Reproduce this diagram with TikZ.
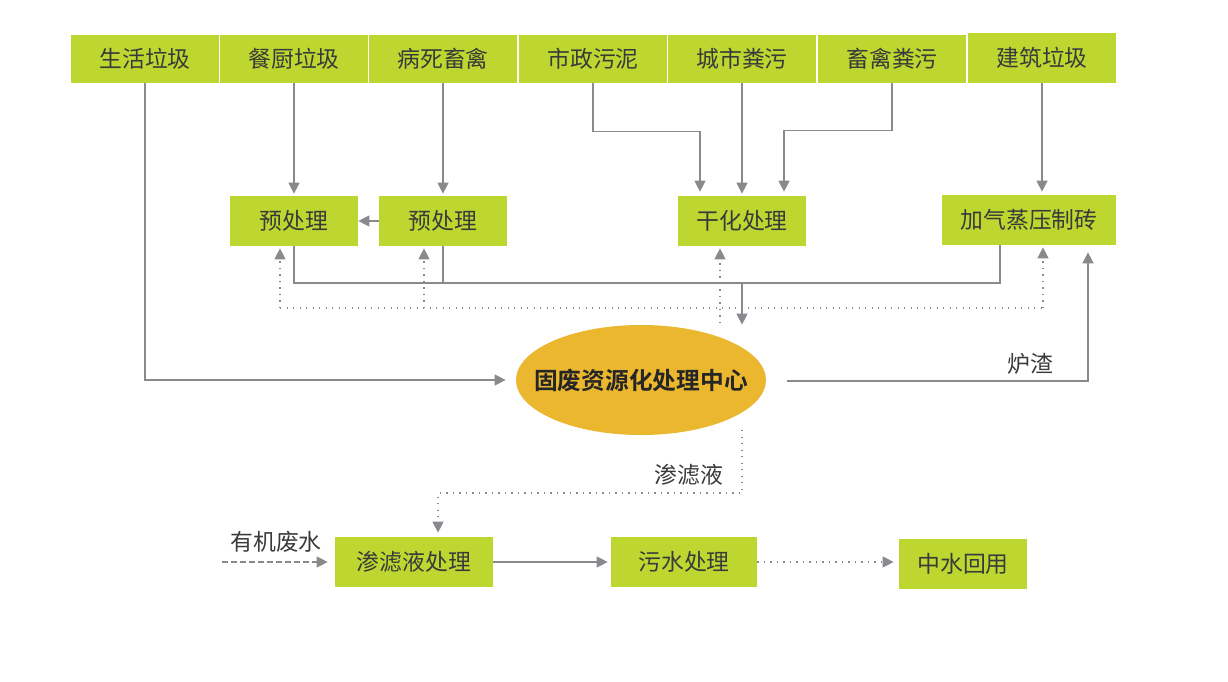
\documentclass[tikz,border=0pt]{standalone}
\usepackage{fontspec}
\setmainfont{Noto Sans CJK SC}[BoldFont={Noto Sans CJK SC Bold}]
\usetikzlibrary{positioning, arrows.meta, calc, shapes.geometric}

\definecolor{leaf}{RGB}{190,215,48}
\definecolor{amber}{RGB}{235,183,46}
\definecolor{wire}{RGB}{137,137,142}
\definecolor{ink}{RGB}{58,58,58}

\begin{document}
\begin{tikzpicture}[
  x=0.2mm, y=-0.2mm,
  font=\fontsize{13}{15}\selectfont,
  % block styles
  srcbox/.style={rectangle, fill=leaf, text=ink, minimum width=29.6mm, minimum height=9.6mm, inner sep=0pt},
  procbox/.style={rectangle, fill=leaf, text=ink, minimum width=25.6mm, minimum height=10mm, inner sep=0pt},
  hubnode/.style={ellipse, fill=amber, text=black!85, minimum width=50mm, minimum height=22mm, inner xsep=-4mm, inner ysep=0pt, font=\fontsize{13.5}{15}\selectfont\bfseries},
  tag/.style={text=ink, inner sep=1pt},
  % arrow styles
  line/.style={draw=wire, line width=0.27mm, -{Triangle[length=2.2mm, width=2.2mm]}},
  seg/.style={draw=wire, line width=0.27mm},
  dotline/.style={draw=wire, line width=0.25mm, dash pattern=on 0.25mm off 1.05mm},
  dotarrow/.style={dotline, -{Triangle[length=2.2mm, width=2.2mm]}},
  dasharrow/.style={draw=wire, line width=0.27mm, dash pattern=on 1.2mm off 0.6mm, -{Triangle[length=2.2mm, width=2.2mm]}}
]
  \useasboundingbox (0,0) rectangle (1228,682);

  % ==========================================
  % ROW 1: SOURCES
  % ==========================================
  \node[srcbox] (src1) at (145,59) {生活垃圾};
  \node[srcbox] (src2) at (294,59) {餐厨垃圾};
  \node[srcbox] (src3) at (443,59) {病死畜禽};
  \node[srcbox] (src4) at (593,59) {市政污泥};
  \node[srcbox] (src5) at (742,59) {城市粪污};
  \node[srcbox] (src6) at (892,59) {畜禽粪污};
  \node[srcbox, minimum height=10mm] (src7) at (1042,58) {建筑垃圾};

  % ==========================================
  % ROW 2: PRE-TREATMENT
  % ==========================================
  \node[procbox] (pre1) at (294,221) {预处理};
  \node[procbox] (pre2) at (443,221) {预处理};
  \node[procbox] (dry) at (742,221) {干化处理};
  \node[procbox, minimum width=34.8mm] (brick) at (1029,220) {加气蒸压制砖};

  \draw[line, shorten >=0.4mm] (src2.south) -- (pre1.north);
  \draw[line, shorten >=0.4mm] (src3.south) -- (pre2.north);
  \draw[line] (pre2.west) -- (pre1.east);
  \draw[line, shorten >=0.8mm] (src4.south) -- ++(0,48) -| ($(dry.north)+(-42,0)$);
  \draw[line, shorten >=0.4mm] (src5.south) -- (dry.north);
  \draw[line, shorten >=0.8mm] (src6.south) -- ++(0,47) -| ($(dry.north)+(42,0)$);
  \draw[line, shorten >=0.6mm] (src7.south) -- (src7.south |- brick.north);

  % ==========================================
  % CENTRE
  % ==========================================
  \node[hubnode] (hub) at (641,380) {固废资源化处理中心};

  \draw[line, shorten >=2mm] (src1.south) |- (hub.west);

  % collecting bus
  \coordinate (busL) at (294,283);
  \coordinate (busM) at (742,283);
  \coordinate (busR) at (1000,283);
  \draw[seg] (pre1.south) -- (busL) -- (busR) -- (busR |- brick.south);
  \draw[seg] (pre2.south) -- (pre2.south |- busL);
  \draw[seg] ($(dry.south)+(32,0)$) -- ($(dry.south)+(32,0)$ |- busM);
  \draw[line] (busM) -- (busM |- hub.north);

  % feedback (dotted)
  \coordinate (fb1) at (280,308);
  \coordinate (fb2) at (424,308);
  \coordinate (fb3) at (720,323);
  \coordinate (fb4) at (1043,308);
  \draw[dotline] (fb1) -- (fb4);
  \draw[dotarrow, shorten >=0.4mm] (fb1) -- (fb1 |- pre1.south);
  \draw[dotarrow, shorten >=0.4mm] (fb2) -- (fb2 |- pre2.south);
  \draw[dotarrow, shorten >=0.4mm] (fb3) -- (fb3 |- dry.south);
  \draw[dotarrow, shorten >=0.4mm] (fb4) -- (fb4 |- brick.south);

  % slag back to bricks
  \coordinate (slagOut) at (787,381);
  \draw[line] (slagOut) -| ($(brick.south)+(59,7)$);
  \node[tag] (slag) at (1030,364) {炉渣};

  % ==========================================
  % ROW 3: WATER
  % ==========================================
  \node[procbox, minimum width=31.6mm] (leach) at (414,562) {渗滤液处理};
  \node[procbox, minimum width=29.2mm] (sewage) at (684,562) {污水处理};
  \node[procbox] (reuse) at (963,564) {中水回用};

  \coordinate (leachOut) at (742,430);
  \coordinate (leachBend) at (742,493);
  \draw[dotarrow, shorten >=0.8mm] (leachOut) -- (leachBend) -| ($(leach.north)+(24,0)$);
  \node[tag] (leachLbl) at (689,475) {渗滤液};

  \coordinate (orgIn) at (222,562);
  \draw[dasharrow, shorten >=1.4mm] (orgIn) -- (leach.west);
  \node[tag] (orgLbl) at (276,542) {有机废水};

  \draw[line, shorten >=0.6mm] (leach.east) -- (sewage.west);
  \draw[dotarrow, shorten >=1mm] (sewage.east) -- (sewage.east -| reuse.west);

\end{tikzpicture}
\end{document}
